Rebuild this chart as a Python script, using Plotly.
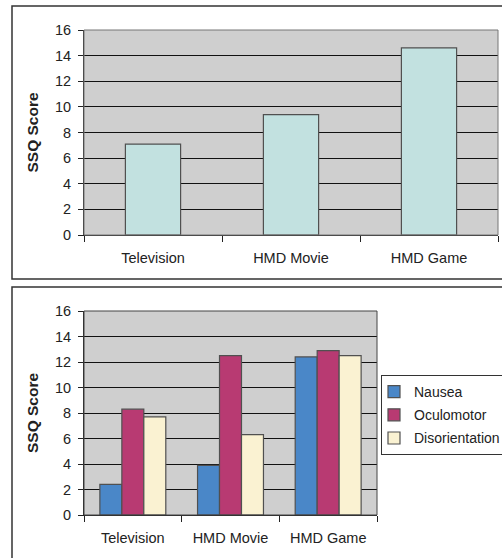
import plotly.graph_objects as go

W, H = 502, 558

categories = ["Television", "HMD Movie", "HMD Game"]
total_ssq = [7.1, 9.4, 14.6]
nausea = [2.4, 3.9, 12.4]
oculomotor = [8.3, 12.5, 12.9]
disorientation = [7.7, 6.3, 12.5]
y_ticks = [0, 2, 4, 6, 8, 10, 12, 14, 16]

FONT = "Liberation Sans, Arial, sans-serif"
EDGE = "#505050"

def px_x(a, b):
    return [a / W, b / W]

def px_y(top, bottom):
    return [(H - bottom) / H, (H - top) / H]

fig = go.Figure()

fig.add_trace(go.Bar(
    x=categories, y=total_ssq, width=0.4, showlegend=False,
    marker=dict(color="#C2E1E0", line=dict(color=EDGE, width=1.2)),
    xaxis="x", yaxis="y"))

series = [("Nausea", nausea, "#4A87C8"),
          ("Oculomotor", oculomotor, "#B83A72"),
          ("Disorientation", disorientation, "#FAF2D2")]
for name, vals, col in series:
    fig.add_trace(go.Bar(
        x=categories, y=vals, name=name, legendgroup=name,
        marker=dict(color=col, line=dict(color=EDGE, width=1.2)),
        xaxis="x2", yaxis="y2"))

xcommon = dict(type="category", showgrid=False, showline=True, linecolor="#222",
               linewidth=1, mirror=False, ticks="outside", ticklen=6,
               tickcolor="#222", tickson="boundaries",
               tickfont=dict(family=FONT, size=14.5, color="#222"),
               ticklabelstandoff=10, fixedrange=True, automargin=False)
ycommon = dict(range=[0, 16], tickvals=y_ticks, showgrid=True, gridcolor="#111",
               gridwidth=1, showline=True, linecolor="#222", linewidth=1,
               ticks="outside", ticklen=5, tickcolor="#222",
               tickfont=dict(family=FONT, size=14.5, color="#222"),
               ticklabelstandoff=4,
               zeroline=False, automargin=False,
               title=dict(text="<b>SSQ Score</b>", font=dict(family=FONT, size=15.5, color="#222"),
                          standoff=12))

fig.update_layout(
    width=W, height=H,
    margin=dict(l=0, r=0, t=0, b=0, autoexpand=False),
    paper_bgcolor="white",
    plot_bgcolor="#CFCFCF",
    barmode="group", bargap=0.325, bargroupgap=0,
    xaxis=dict(xcommon, domain=px_x(84, 498), anchor="y"),
    yaxis=dict(ycommon, domain=px_y(30, 235), anchor="x"),
    xaxis2=dict(xcommon, domain=px_x(84, 377), anchor="y2"),
    yaxis2=dict(ycommon, domain=px_y(311, 515), anchor="x2"),
    legend=dict(x=381 / W, y=(H - 375) / H, xanchor="left", yanchor="top",
                bordercolor="#333", borderwidth=1, bgcolor="white",
                font=dict(family=FONT, size=14, color="#222"),
                tracegroupgap=2, itemwidth=30, indentation=-8),
    shapes=[
        dict(type="rect", xref="paper", yref="paper",
             x0=12 / W, x1=1.05, y0=(H - 279) / H, y1=(H - 6) / H,
             line=dict(color="#333", width=1.5), layer="below"),
        dict(type="rect", xref="paper", yref="paper",
             x0=12 / W, x1=1.05, y0=-0.05, y1=(H - 287) / H,
             line=dict(color="#333", width=1.5), layer="below"),
        dict(type="rect", xref="x domain", yref="y domain", x0=0, x1=1, y0=0, y1=1,
             line=dict(color="#777", width=1), layer="above"),
        dict(type="rect", xref="x2 domain", yref="y2 domain", x0=0, x1=1, y0=0, y1=1,
             line=dict(color="#444", width=1), layer="above"),
    ],
)

fig.write_html("out.html")
